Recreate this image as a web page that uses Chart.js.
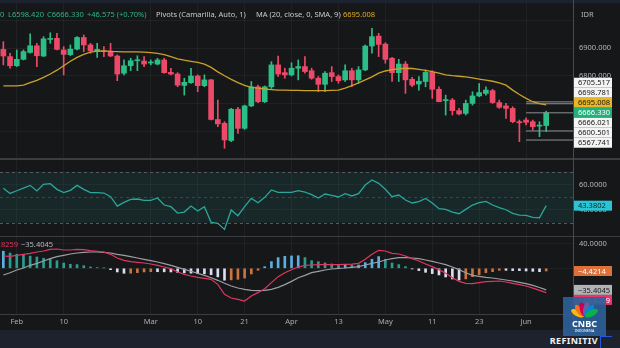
<!DOCTYPE html>
<html>
<head>
<meta charset="utf-8">
<title>IHSG daily</title>
<script src="https://cdn.jsdelivr.net/npm/chart.js@4.4.1/dist/chart.umd.min.js"></script>
<style>
  html, body { margin: 0; padding: 0; background: #161719; }
  #wrap { position: relative; width: 620px; height: 348px; overflow: hidden; background: #161719; font-family: "Noto Sans", sans-serif; }
  #wrap canvas { position: absolute; left: 0; }
  .txt { position: absolute; white-space: nowrap; font-size: 7.5px; line-height: 10px; }
  .hline { position: absolute; left: 0; width: 620px; background: #3c3d41; z-index: 2; }
  #vline { position: absolute; left: 573px; top: 0; width: 1px; height: 330px; background: #4a4b50; z-index: 2; }
  #topband { position: absolute; left: 0; top: 0; width: 620px; height: 3px; background: #1c2230; z-index: 2; }
  #bottom { position: absolute; left: 0; top: 330px; width: 620px; height: 18px; background: #1e222c; z-index: 2; }
  #refinitiv { position: absolute; right: 22px; top: 4px; color: #f2f2f2; font: bold 9px "Noto Sans", sans-serif; letter-spacing: 0.4px; }
  #reficon { position: absolute; left: 600px; top: 6px; width: 11px; height: 13px; border: 1.5px solid #2256e0; border-right: none; border-bottom: none; }
  #logo { position: absolute; left: 563px; top: 297px; width: 43px; height: 39px; z-index: 3; }
</style>
</head>
<body>
<div id="wrap">
  <canvas id="priceChart" width="620" height="155" style="top:3px"></canvas>
  <canvas id="rsiChart" width="620" height="76" style="top:160px"></canvas>
  <canvas id="macdChart" width="620" height="92" style="top:237px"></canvas>

  <div id="topband"></div>
  <div class="hline" style="top:158px;height:2px"></div>
  <div class="hline" style="top:236px;height:1px"></div>
  <div id="vline"></div>

  <div class="txt" id="hdrOpen" style="left:0;top:9px;color:#2fb387">0</div>
  <div class="txt" id="hdrLow" style="left:8px;top:9px;color:#2fb387"></div>
  <div class="txt" id="hdrClose" style="left:47px;top:9px;color:#2fb387"></div>
  <div class="txt" id="hdrChg" style="left:87px;top:9px;color:#2fb387"></div>
  <div class="txt" style="left:156px;top:9px;color:#c9cbd0">Pivots (Camarilla, Auto, 1)</div>
  <div class="txt" style="left:256px;top:9px;color:#c9cbd0">MA (20, close, 0, SMA, 9)</div>
  <div class="txt" id="hdrMa" style="left:343px;top:9px;color:#e0ac22"></div>
  <div class="txt" style="left:581px;top:9px;color:#b4b6bc">IDR</div>

  <div class="txt" id="macdLeg" style="left:-14px;top:239px;color:#e0365f"></div>
  <div class="txt" id="sigLeg" style="left:21px;top:239px;color:#b4b6bc"></div>

  <svg id="logo" viewBox="0 0 43 39">
    <rect x="0" y="0" width="43" height="39" fill="#2d5f98" opacity="0.92"/>
    <g transform="translate(21.5,20)">
      <ellipse cx="0" cy="-8" rx="3" ry="7" fill="#fcb711" transform="rotate(-62)"/>
      <ellipse cx="0" cy="-8" rx="3" ry="7" fill="#f37021" transform="rotate(-37)"/>
      <ellipse cx="0" cy="-8" rx="3" ry="7" fill="#cc004c" transform="rotate(-12)"/>
      <ellipse cx="0" cy="-8" rx="3" ry="7" fill="#6460aa" transform="rotate(12)"/>
      <ellipse cx="0" cy="-8" rx="3" ry="7" fill="#0089d0" transform="rotate(37)"/>
      <ellipse cx="0" cy="-8" rx="3" ry="7" fill="#0db14b" transform="rotate(62)"/>
    </g>
    <text x="21.5" y="30" text-anchor="middle" fill="#ffffff" font-family="Noto Sans" font-weight="bold" font-size="9">CNBC</text>
    <text x="21.5" y="35" text-anchor="middle" fill="#ffffff" font-family="Noto Sans" font-size="3.6">INDONESIA</text>
  </svg>

  <div id="bottom">
    <div id="refinitiv">REFINITIV</div>
    <div id="reficon"></div>
  </div>
</div>

<script>
// daily candles, Jan 30 - Jun 8
const opens = [6895, 6869, 6836, 6859, 6884, 6908, 6871, 6931, 6935, 6893,
  6876, 6896, 6938, 6911, 6887, 6889, 6889, 6871, 6809, 6836,
  6854, 6853, 6846, 6842, 6857, 6812, 6806, 6765, 6775, 6799,
  6764, 6785, 6642, 6628, 6566, 6679, 6610, 6691, 6760, 6706,
  6760, 6839, 6811, 6803, 6827, 6833, 6818, 6791, 6769, 6811,
  6797, 6785, 6818, 6785, 6821, 6907, 6943, 6914, 6863, 6811,
  6842, 6787, 6770, 6779, 6812, 6751, 6710, 6712, 6674, 6664,
  6700, 6727, 6736, 6746, 6703, 6691, 6682, 6634, 6640, 6634,
  6618, 6620];
const highs = [6923, 6881, 6893, 6893, 6951, 6917, 6941, 6955, 6953, 6905,
  6911, 6941, 6947, 6917, 6917, 6905, 6917, 6875, 6857, 6863,
  6872, 6869, 6857, 6863, 6863, 6827, 6811, 6791, 6827, 6803,
  6803, 6787, 6712, 6634, 6682, 6686, 6694, 6779, 6766, 6763,
  6851, 6871, 6827, 6847, 6857, 6869, 6827, 6797, 6815, 6833,
  6803, 6839, 6827, 6833, 6911, 6971, 6953, 6919, 6866, 6859,
  6851, 6794, 6797, 6821, 6818, 6760, 6730, 6718, 6682, 6712,
  6742, 6772, 6760, 6751, 6712, 6700, 6688, 6640, 6648, 6640,
  6634, 6672];
const lows = [6839, 6827, 6833, 6857, 6881, 6833, 6869, 6917, 6893, 6803,
  6872, 6893, 6887, 6881, 6866, 6869, 6869, 6782, 6803, 6818,
  6818, 6833, 6839, 6839, 6809, 6803, 6760, 6730, 6772, 6742,
  6760, 6640, 6616, 6538, 6562, 6592, 6606, 6688, 6703, 6703,
  6754, 6797, 6791, 6799, 6785, 6809, 6787, 6742, 6742, 6779,
  6773, 6779, 6760, 6773, 6818, 6881, 6869, 6845, 6779, 6779,
  6736, 6760, 6748, 6760, 6718, 6706, 6658, 6658, 6658, 6658,
  6694, 6724, 6730, 6700, 6682, 6646, 6630, 6562, 6622, 6604,
  6580, 6598.42];
const closes = [6871, 6836, 6859, 6887, 6908, 6872, 6933, 6934, 6895, 6877,
  6896, 6938, 6911, 6890, 6895, 6887, 6871, 6806, 6836, 6854,
  6857, 6842, 6848, 6857, 6811, 6806, 6766, 6776, 6799, 6764,
  6785, 6642, 6626, 6568, 6679, 6610, 6691, 6760, 6706, 6760,
  6839, 6806, 6803, 6827, 6833, 6815, 6791, 6769, 6809, 6797,
  6782, 6818, 6785, 6821, 6907, 6941, 6913, 6859, 6811, 6842,
  6785, 6766, 6780, 6812, 6751, 6706, 6712, 6674, 6662, 6700,
  6727, 6739, 6748, 6703, 6686, 6682, 6634, 6630, 6632, 6616,
  6619.755, 6666.33];
const ma20 = [6763, 6763, 6763, 6766, 6775, 6783, 6794, 6806, 6820, 6836,
  6852, 6866, 6877, 6885, 6889, 6890, 6888, 6887, 6886, 6886,
  6886, 6885, 6883, 6881, 6876, 6869, 6861, 6856, 6852, 6848,
  6842, 6830, 6814, 6800, 6787, 6775, 6765, 6758, 6755, 6752,
  6750, 6748, 6748, 6747, 6747, 6746, 6746, 6746, 6746, 6747,
  6748, 6755, 6764, 6774, 6785, 6796, 6809, 6817, 6822, 6825,
  6827, 6826, 6823, 6819, 6815, 6809, 6803, 6800, 6798, 6796,
  6792, 6788, 6784, 6780, 6774, 6766, 6748, 6732, 6718, 6706,
  6699, 6695.008];
const pivotLevels = [6705.517, 6698.781, 6666.021, 6600.501, 6567.741];
const pivotStart = 78;

const rsi = [57.0, 53.0, 55.1, 57.2, 59.3, 54.9, 60.1, 60.6, 56.2, 53.6,
  55.4, 59.3, 56.2, 53.6, 53.6, 53.3, 50.4, 43.1, 46.0, 48.3,
  48.6, 47.5, 47.5, 49.4, 43.9, 42.6, 37.6, 38.4, 43.1, 39.2,
  42.6, 30.3, 29.5, 24.8, 40.0, 35.5, 42.6, 49.1, 45.7, 49.9,
  55.7, 53.8, 53.8, 53.8, 55.1, 54.1, 52.0, 49.4, 52.5, 51.5,
  50.2, 52.8, 51.0, 52.8, 59.6, 63.5, 60.9, 56.2, 50.4, 51.7,
  47.8, 45.5, 46.5, 49.1, 45.5, 41.0, 40.5, 38.4, 37.1, 40.5,
  43.9, 45.7, 46.8, 43.9, 41.8, 40.2, 37.4, 36.0, 35.8, 34.2,
  33.9, 43.3802];
const RSI_UPPER = 70, RSI_MID = 50, RSI_LOWER = 30;

const macdLine = [20.2, 19.6, 21.3, 22.9, 24.5, 26.7, 28.4, 31.1, 31.6, 30.0,
  30.0, 31.1, 30.5, 28.9, 27.8, 26.7, 22.9, 16.9, 13.1, 10.9,
  9.8, 8.7, 7.0, 4.9, 2.1, -0.6, -6.1, -9.9, -12.6, -14.8,
  -16.4, -18.1, -26.3, -42.7, -48.7, -50.9, -53.6, -45.4, -39.9, -33.4,
  -23.5, -13.7, -7.2, -2.4, 2.1, 4.9, 5.4, 6.0, 6.0, 6.0,
  6.0, 6.5, 7.0, 8.1, 14.7, 22.9, 29.5, 28.4, 24.5, 23.4,
  20.2, 15.8, 12.0, 7.0, 2.7, -2.2, -8.2, -15.4, -21.4, -24.6,
  -25.2, -23.5, -21.9, -21.4, -20.8, -22.5, -24.6, -26.8, -29.0, -32.5,
  -36.2, -39.8259];
const signalLine = [-11.0, -7.2, -2.8, 0.5, 4.9, 8.1, 12.0, 15.8, 19.1, 21.3,
  23.4, 25.1, 26.2, 26.7, 26.7, 26.2, 25.1, 22.9, 21.3, 19.1,
  16.9, 14.7, 12.5, 10.3, 7.6, 4.9, 1.6, -1.7, -4.9, -8.2,
  -11.5, -15.4, -19.7, -24.6, -29.0, -32.3, -34.5, -36.1, -36.7, -36.1,
  -34.5, -31.2, -26.8, -21.4, -15.4, -11.5, -7.2, -4.9, -2.8, -1.1,
  0.0, 0.5, 1.6, 2.7, 5.4, 8.1, 10.3, 13.6, 15.8, 17.4,
  17.4, 16.9, 15.8, 13.6, 11.4, 8.7, 6.0, 2.1, -2.2, -7.2,
  -11.5, -13.2, -14.8, -15.9, -17.5, -19.2, -20.8, -23.0, -25.2, -28.0,
  -31.5, -35.4045];
const macdHist = [28, 25, 23, 22, 20, 18.5, 16.5, 15, 12.5, 8.7,
  6.6, 6, 4.3, 2.2, 1.1, 0.5, -2.2, -6, -8.2, -8,
  -7.1, -6, -5.5, -5.6, -5.8, -6, -6.8, -7.5, -8, -8.5,
  -9, -10.5, -14, -19.5, -19, -18, -16, -9.3, -3.2, 2.7,
  11, 17.5, 19.6, 20.3, 20.6, 17.6, 12.6, 10.9, 8.8, 7.1,
  6.0, 6.0, 5.4, 5.4, 9.3, 14.8, 19.2, 14.8, 8.7, 6.0,
  2.8, -1.1, -3.8, -6.6, -8.7, -10.9, -14.2, -17.5, -19.2, -17.4,
  -13.7, -10.3, -7.1, -5.5, -3.3, -3.3, -3.8, -3.8, -4.4, -5.0,
  -5.5, -4.4214];

// x axis labels (candle index -> text)
const tickIdx = [2, 9, 22, 29, 36, 43, 50, 57, 64, 71, 78];
const tickText = ['Feb', '10', 'Mar', '10', '21', 'Apr', '13', 'May', '11', '23', 'Jun'];
const priceTicks = [6600, 6700, 6800, 6900, 7000];
const rsiTicks = [40, 60];
const macdTicks = [0, 40];

const FONT = 'Noto Sans';
const GRID = 'rgba(255,255,255,0.045)';
const UP = '#2bbf87', DOWN = '#ec4a68';
const X_MIN = -0.5, X_MAX = 85;
const last = closes.length - 1;

const fmt = (v, d) => (v < 0 ? '\u2212' : '') + Math.abs(v).toFixed(d);

function xScale(showLabels) {
  return {
    type: 'linear', min: X_MIN, max: X_MAX, offset: false,
    afterBuildTicks: s => { s.ticks = tickIdx.map(v => ({ value: v })); },
    afterFit: s => { s.height = showLabels ? 15 : 0; s.paddingLeft = 0; s.paddingRight = 0; },
    grid: { color: GRID, drawTicks: false, offset: false },
    border: { display: showLabels, color: '#3c3d41' },
    ticks: {
      display: showLabels, color: '#a8abb2', padding: 3, autoSkip: false, maxRotation: 0,
      font: { size: 7.5, family: FONT },
      callback: v => tickText[tickIdx.indexOf(v)]
    }
  };
}

function yScale(min, max, ticks, label) {
  return {
    type: 'linear', position: 'right', min: min, max: max,
    afterBuildTicks: s => { s.ticks = ticks.map(v => ({ value: v })); },
    afterFit: s => { s.width = 47; s.paddingTop = 0; s.paddingBottom = 0; },
    grid: { color: GRID, drawTicks: false },
    border: { display: false },
    ticks: { color: '#b4b6bc', padding: 6, font: { size: 7.5, family: FONT }, callback: label }
  };
}

// coloured value boxes on the right axis
const valueTags = {
  id: 'valueTags',
  afterDraw(chart, args, opts) {
    if (!opts.tags) return;
    const ctx = chart.ctx, y = chart.scales.y, h = 10;
    const rows = opts.tags.map(t => Object.assign({ py: y.getPixelForValue(t.value) }, t));
    if (opts.anchor != null) {
      const a = rows[opts.anchor].py;
      rows.forEach((r, k) => { r.py = a + (k - opts.anchor) * h; });
    } else {
      rows.sort((a, b) => a.py - b.py);
      for (let k = 1; k < rows.length; k++) rows[k].py = Math.max(rows[k].py, rows[k - 1].py + h);
    }
    ctx.save();
    ctx.font = '7.5px "Noto Sans"';
    ctx.textBaseline = 'middle';
    rows.forEach(r => {
      ctx.fillStyle = r.bg;
      ctx.fillRect(y.left + 1, r.py - h / 2, 38, h);
      ctx.fillStyle = r.fg;
      ctx.fillText(r.text, y.left + 5, r.py + 0.5);
    });
    ctx.restore();
  }
};

// RSI 30/70 band with dashed bounds
const rsiBand = {
  id: 'rsiBand',
  beforeDatasetsDraw(chart) {
    const { ctx, chartArea: a } = chart, y = chart.scales.y;
    const top = y.getPixelForValue(RSI_UPPER), bot = y.getPixelForValue(RSI_LOWER);
    ctx.save();
    ctx.fillStyle = 'rgba(38,166,154,0.12)';
    ctx.fillRect(a.left, top, a.right - a.left, bot - top);
    ctx.setLineDash([3, 3]);
    ctx.lineWidth = 1;
    [[top, '#57595e'], [bot, '#57595e'], [y.getPixelForValue(RSI_MID), 'rgba(120,122,128,0.35)']].forEach(([py, c]) => {
      ctx.strokeStyle = c;
      ctx.beginPath();
      ctx.moveTo(a.left, Math.round(py) + 0.5);
      ctx.lineTo(a.right, Math.round(py) + 0.5);
      ctx.stroke();
    });
    ctx.restore();
  }
};

const baseOptions = {
  responsive: false,
  animation: false,
  events: [],
  layout: { padding: 0 },
  plugins: { legend: { display: false }, tooltip: { enabled: false } }
};

// price panel
const candleColors = closes.map((c, i) => c >= opens[i] ? UP : DOWN);
new Chart(document.getElementById('priceChart'), {
  type: 'bar',
  data: {
    datasets: [
      { type: 'line', data: ma20.map((v, i) => ({ x: i, y: v })), borderColor: '#c9a227', borderWidth: 1.3, pointRadius: 0, order: 0 },
      ...pivotLevels.map(p => ({
        type: 'line', data: [{ x: pivotStart, y: p }, { x: X_MAX, y: p }],
        borderColor: '#8d8f94', borderWidth: 1, pointRadius: 0, order: 0
      })),
      { data: opens.map((o, i) => ({ x: i, y: [o, closes[i]] })), backgroundColor: candleColors,
        barThickness: 5, minBarLength: 1, grouped: false, order: 1 },
      { data: lows.map((l, i) => ({ x: i, y: [l, highs[i]] })), backgroundColor: candleColors,
        barThickness: 1, grouped: false, order: 2 }
    ]
  },
  options: Object.assign({}, baseOptions, {
    scales: {
      x: xScale(false),
      y: yScale(6502.9, 7062.5, priceTicks, v => (v === 6800 || v === 6900) ? v.toFixed(3) : '')
    },
    plugins: Object.assign({}, baseOptions.plugins, {
      valueTags: {
        anchor: 3,
        tags: [
          { value: pivotLevels[0], text: pivotLevels[0].toFixed(3), bg: '#f4f4f4', fg: '#161616' },
          { value: pivotLevels[1], text: pivotLevels[1].toFixed(3), bg: '#f4f4f4', fg: '#161616' },
          { value: ma20[last], text: ma20[last].toFixed(3), bg: '#e8b526', fg: '#161616' },
          { value: closes[last], text: closes[last].toFixed(3), bg: '#22b07d', fg: '#ffffff' },
          { value: pivotLevels[2], text: pivotLevels[2].toFixed(3), bg: '#f4f4f4', fg: '#161616' },
          { value: pivotLevels[3], text: pivotLevels[3].toFixed(3), bg: '#f4f4f4', fg: '#161616' },
          { value: pivotLevels[4], text: pivotLevels[4].toFixed(3), bg: '#f4f4f4', fg: '#161616' }
        ]
      }
    })
  }),
  plugins: [valueTags]
});

// RSI panel
new Chart(document.getElementById('rsiChart'), {
  type: 'line',
  data: {
    datasets: [{ data: rsi.map((v, i) => ({ x: i, y: v })), borderColor: '#2aa79b', borderWidth: 1.3, pointRadius: 0 }]
  },
  options: Object.assign({}, baseOptions, {
    scales: { x: xScale(false), y: yScale(19.6, 79.2, rsiTicks, v => v.toFixed(4)) },
    plugins: Object.assign({}, baseOptions.plugins, {
      valueTags: { tags: [{ value: rsi[last], text: rsi[last].toFixed(4), bg: '#2bc4d4', fg: '#0e2326' }] }
    })
  }),
  plugins: [rsiBand, valueTags]
});

// MACD panel
const histColors = macdHist.map((v, i) => {
  const prev = i > 0 ? macdHist[i - 1] : v;
  if (v >= 0) return v >= prev ? '#5aaee6' : '#2a9d8f';
  return v <= prev ? '#dcdcf0' : '#cc7440';
});
new Chart(document.getElementById('macdChart'), {
  type: 'bar',
  data: {
    datasets: [
      { type: 'line', data: macdLine.map((v, i) => ({ x: i, y: v })), borderColor: '#e0365f', borderWidth: 1.2, pointRadius: 0, order: 0 },
      { type: 'line', data: signalLine.map((v, i) => ({ x: i, y: v })), borderColor: '#9c9ea3', borderWidth: 1.2, pointRadius: 0, order: 1 },
      { data: macdHist.map((v, i) => ({ x: i, y: v })), backgroundColor: histColors, barThickness: 2, grouped: false, order: 2 }
    ]
  },
  options: Object.assign({}, baseOptions, {
    scales: {
      x: xScale(true),
      y: yScale(-74.9, 51.3, macdTicks, v => v === 40 ? v.toFixed(4) : '')
    },
    plugins: Object.assign({}, baseOptions.plugins, {
      valueTags: {
        tags: [
          { value: macdHist[last], text: fmt(macdHist[last], 4), bg: '#e0703a', fg: '#ffffff' },
          { value: signalLine[last], text: fmt(signalLine[last], 4), bg: '#b2b3b6', fg: '#161616' },
          { value: macdLine[last], text: fmt(macdLine[last], 4), bg: '#e8336b', fg: '#ffffff' }
        ]
      }
    })
  }),
  plugins: [valueTags]
});

// header legend texts
const chg = closes[last] - closes[last - 1];
document.getElementById('hdrLow').textContent = 'L' + lows[last].toFixed(3);
document.getElementById('hdrClose').textContent = 'C' + closes[last].toFixed(3);
document.getElementById('hdrChg').textContent = (chg >= 0 ? '+' : '') + chg.toFixed(3) +
  ' (' + (chg >= 0 ? '+' : '') + (chg / closes[last - 1] * 100).toFixed(2) + '%)';
document.getElementById('hdrMa').textContent = ma20[last].toFixed(3);
document.getElementById('macdLeg').textContent = fmt(macdLine[last], 4);
document.getElementById('sigLeg').textContent = fmt(signalLine[last], 4);
</script>
</body>
</html>
